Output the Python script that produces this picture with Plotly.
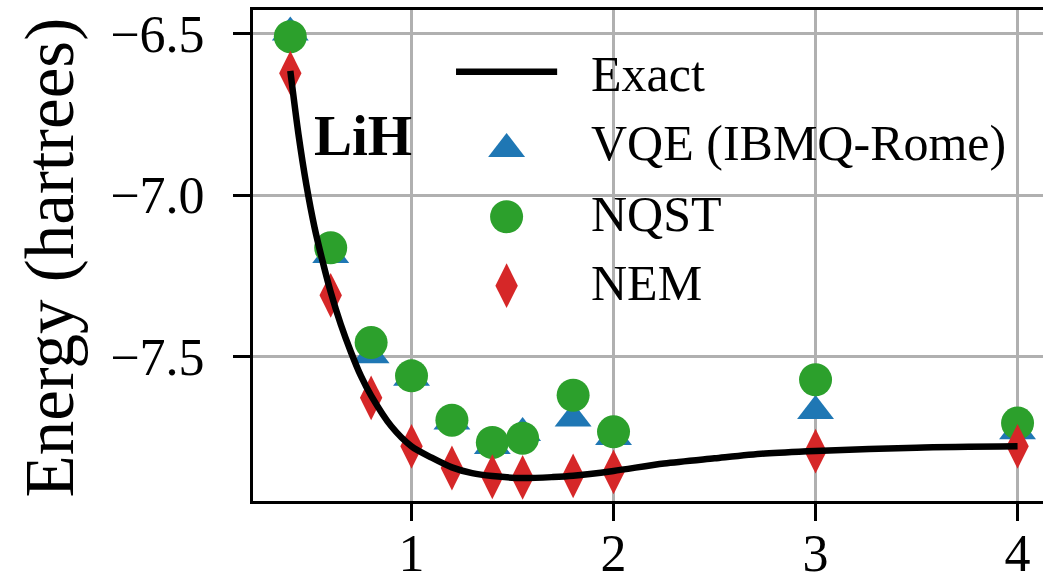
import plotly.graph_objects as go

# Bond length (angstrom) grid for the sampled methods
BOND_LENGTHS = [0.4, 0.6, 0.8, 1.0, 1.2, 1.4, 1.55, 1.8, 2.0, 3.0, 4.0]

# Ground-state energies (hartrees)
VQE_ENERGY = [-6.497, -7.185, -7.495, -7.565, -7.700, -7.776, -7.736, -7.691, -7.748, -7.668, -7.730]
NQST_ENERGY = [-6.510, -7.163, -7.456, -7.559, -7.696, -7.765, -7.752, -7.619, -7.732, -7.571, -7.705]
NEM_ENERGY = [-6.623, -7.310, -7.627, -7.777, -7.844, -7.871, -7.873, -7.868, -7.856, -7.792, -7.777]

# Exact dissociation curve
EXACT_R = [0.40, 0.44, 0.48, 0.52, 0.56, 0.60, 0.65, 0.70, 0.75, 0.80, 0.90, 1.00, 1.10,
           1.20, 1.30, 1.40, 1.55, 1.70, 1.80, 2.00, 2.25, 2.50, 2.75, 3.00, 3.50, 4.00]
EXACT_E = [-6.616, -6.810, -6.970, -7.100, -7.205, -7.300, -7.400, -7.485, -7.560, -7.620,
           -7.715, -7.777, -7.812, -7.842, -7.860, -7.869, -7.875, -7.872, -7.868, -7.853,
           -7.830, -7.814, -7.799, -7.791, -7.781, -7.777]

X_TICKS = [1, 2, 3, 4]
Y_TICKS = [-6.5, -7.0, -7.5]
Y_TICK_TEXT = ["\u22126.5", "\u22127.0", "\u22127.5"]

BLUE, GREEN, RED = "#1f77b4", "#2ca02c", "#d62728"
SERIF = "Liberation Serif"

fig = go.Figure()

fig.add_trace(go.Scatter(
    x=BOND_LENGTHS, y=VQE_ENERGY, mode="markers", name="VQE (IBMQ-Rome)",
    marker=dict(symbol="triangle-up", size=32, color=BLUE, line=dict(width=0)),
    showlegend=False))
fig.add_trace(go.Scatter(
    x=BOND_LENGTHS, y=NQST_ENERGY, mode="markers", name="NQST",
    marker=dict(symbol="circle", size=33, color=GREEN, line=dict(width=0)),
    showlegend=False))
fig.add_trace(go.Scatter(
    x=BOND_LENGTHS, y=NEM_ENERGY, mode="markers", name="NEM",
    marker=dict(symbol="diamond-tall", size=32, color=RED, line=dict(width=0)),
    showlegend=False))
fig.add_trace(go.Scatter(
    x=EXACT_R, y=EXACT_E, mode="lines", name="Exact",
    line=dict(color="black", width=6.5, shape="spline", smoothing=0.8),
    showlegend=False))

# Legend keys, drawn on an overlay axis spanning the plot area in [0, 1]
LEGEND_X = 0.321
fig.add_trace(go.Scatter(
    x=[0.257, 0.385], y=[0.874, 0.874], mode="lines",
    line=dict(color="black", width=6.5), xaxis="x2", yaxis="y2",
    showlegend=False, hoverinfo="skip"))
fig.add_trace(go.Scatter(
    x=[LEGEND_X], y=[0.717], mode="markers", xaxis="x2", yaxis="y2",
    marker=dict(symbol="triangle-up", size=32, color=BLUE),
    showlegend=False, hoverinfo="skip"))
fig.add_trace(go.Scatter(
    x=[LEGEND_X], y=[0.579], mode="markers", xaxis="x2", yaxis="y2",
    marker=dict(symbol="circle", size=33, color=GREEN),
    showlegend=False, hoverinfo="skip"))
fig.add_trace(go.Scatter(
    x=[LEGEND_X], y=[0.4385], mode="markers", xaxis="x2", yaxis="y2",
    marker=dict(symbol="diamond-tall", size=32, color=RED),
    showlegend=False, hoverinfo="skip"))

legend_labels = ["Exact", "VQE (IBMQ-Rome)", "NQST", "NEM"]
legend_y = [0.870, 0.730, 0.585, 0.443]
annotations = []
for label, ly in zip(legend_labels, legend_y):
    annotations.append(dict(
        x=0.425, y=ly, xref="paper", yref="paper", text=label, showarrow=False,
        xanchor="left", yanchor="middle",
        font=dict(family=SERIF, size=50, color="black")))

annotations.append(dict(
    x=0.0747, y=0.745, xref="paper", yref="paper", text="<b>LiH</b>", showarrow=False,
    xanchor="left", yanchor="middle",
    font=dict(family=SERIF, size=57, color="black")))

annotations.append(dict(
    x=-0.257, y=0.496, xref="paper", yref="paper", text="Energy (hartrees)",
    showarrow=False, textangle=-90, xanchor="center", yanchor="middle",
    font=dict(family=SERIF, size=69, color="black")))

axis_common = dict(
    showline=True, linecolor="black", linewidth=3,
    ticks="outside", ticklen=17, tickwidth=3, tickcolor="black",
    showgrid=True, gridcolor="#b0b0b0", gridwidth=2.5,
    zeroline=False, automargin=False,
    tickfont=dict(family=SERIF, size=52, color="black"),
)

fig.update_layout(
    width=1043, height=582,
    margin=dict(l=253, r=0, t=10, b=81),
    paper_bgcolor="white", plot_bgcolor="white",
    showlegend=False,
    xaxis=dict(range=[0.2153, 4.126], tickvals=X_TICKS, mirror=True,
               ticklabelstandoff=-12, **axis_common),
    yaxis=dict(range=[-7.946, -6.4275], tickvals=Y_TICKS, ticktext=Y_TICK_TEXT,
               ticklabelstandoff=18, **axis_common),
    xaxis2=dict(range=[0, 1], overlaying="x", visible=False, fixedrange=True),
    yaxis2=dict(range=[0, 1], overlaying="y", visible=False, fixedrange=True),
    annotations=annotations,
)

fig.write_html("out.html")
